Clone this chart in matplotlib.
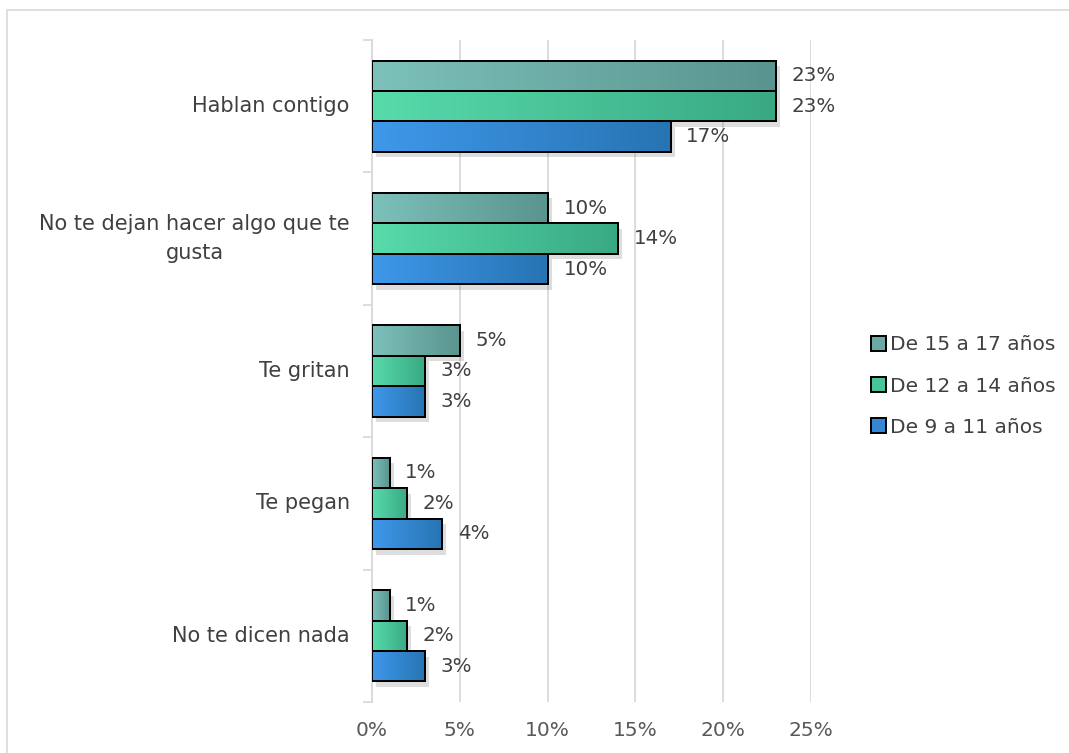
import numpy as np
import matplotlib
matplotlib.use("Agg")
import matplotlib.pyplot as plt
from matplotlib.patches import Rectangle, Patch
from matplotlib.colors import LinearSegmentedColormap
import matplotlib.patheffects as pe

plt.rcParams['font.family'] = ['DejaVu Sans']

categories = ["Hablan contigo", "No te dejan hacer algo que te\ngusta", "Te gritan", "Te pegan", "No te dicen nada"]
series_names = ["De 15 a 17 años", "De 12 a 14 años", "De 9 a 11 años"]
v_15_17 = [0.23, 0.10, 0.05, 0.01, 0.01]
v_12_14 = [0.23, 0.14, 0.03, 0.02, 0.02]
v_9_11 = [0.17, 0.10, 0.03, 0.04, 0.03]
xticks = [0, 0.05, 0.10, 0.15, 0.20, 0.25]
xtick_labels = ["0%", "5%", "10%", "15%", "20%", "25%"]

series = [v_15_17, v_12_14, v_9_11]
grad = [("#7cc1ba", "#5a948e"), ("#58dbab", "#39a984"), ("#3f98ea", "#2774b3")]
solid = ["#6aaaa3", "#48c497", "#3487d2"]

W, H = 1069, 753
fig = plt.figure(figsize=(W / 100, H / 100), dpi=100)
fig.patches.append(Rectangle((7 / W, -0.1), 1.2, 1.1 - 10 / H, transform=fig.transFigure,
                             fill=False, edgecolor="#d9d9d9", linewidth=1.2))
ax = fig.add_axes([372 / W, 1 - 702 / H, (811 - 372) / W, (702 - 40) / H])

n = len(categories)
bh = 0.23
y_centers = np.arange(n)
offsets = [-bh, 0, bh]

for si, (vals, off) in enumerate(zip(series, offsets)):
    bars = ax.barh(y_centers + off, vals, height=bh, color=solid[si],
                   edgecolor="black", linewidth=1.4, zorder=3,
                   label=series_names[si],
                   path_effects=[pe.SimplePatchShadow(offset=(3, -4), shadow_rgbFace="#666666", alpha=0.22),
                                 pe.Normal()])
    cmap = LinearSegmentedColormap.from_list("g%d" % si, list(grad[si]))
    for b, v in zip(bars, vals):
        x0, y0 = b.get_x(), b.get_y()
        w, h = b.get_width(), b.get_height()
        img = ax.imshow(np.linspace(0, 1, 256).reshape(1, -1), cmap=cmap,
                        extent=[x0, x0 + w, y0 + h, y0], aspect="auto", zorder=3.5,
                        interpolation="bicubic")
        img.set_clip_path(b)
        edge = Rectangle((x0, y0), w, h, fill=False, edgecolor="black", linewidth=1.4, zorder=4)
        ax.add_patch(edge)
        ax.text(x0 + w + 0.009, y0 + h / 2, "%d%%" % round(v * 100), va="center", ha="left",
                fontsize=14.3, color="#404040", zorder=5)

ax.set_aspect("auto")
ax.set_xlim(0, 0.25)
ax.set_ylim(n - 0.5, -0.5)

ax.set_xticks(xticks)
ax.set_xticklabels(xtick_labels, fontsize=14.5, color="#595959")
ax.set_yticks(y_centers)
ax.set_yticklabels(categories, fontsize=15, color="#404040", ha="right", va="center",
                   multialignment="center", linespacing=1.55)
ax.tick_params(axis="y", length=0, pad=16)
ax.tick_params(axis="x", length=0, pad=14)
for yb in np.arange(-0.5, n, 1.0):
    ax.plot([-0.0045, 0], [yb, yb], color="#d9d9d9", lw=1.3, clip_on=False, zorder=2)

ax.grid(axis="x", color="#d9d9d9", lw=1.3, zorder=0)
for s in ["top", "right", "bottom"]:
    ax.spines[s].set_visible(False)
ax.spines["left"].set_color("#d9d9d9")
ax.spines["left"].set_linewidth(1.3)

hs = [Patch(facecolor=solid[i], edgecolor="black", linewidth=1.4) for i in range(3)]
leg = fig.legend(hs, series_names, loc="center left", bbox_to_anchor=(853 / W, 1 - 386 / H),
                 frameon=False, fontsize=14.5, handlelength=0.75, handleheight=0.75,
                 handletextpad=0.2, labelspacing=1.1, labelcolor="#404040")

fig.savefig("out.png", dpi=100)
